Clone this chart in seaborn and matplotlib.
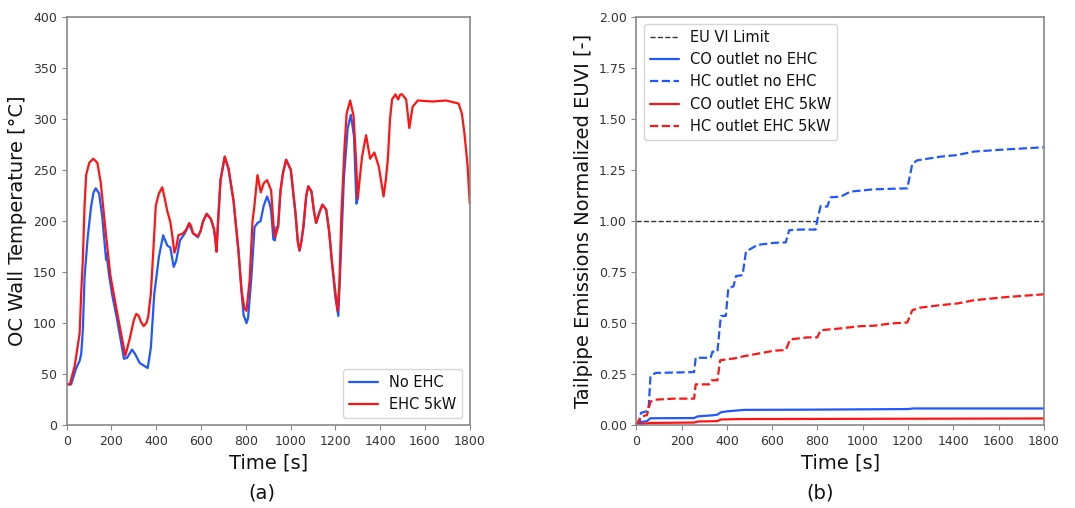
import matplotlib
matplotlib.use("Agg")
import matplotlib.pyplot as plt
import seaborn as sns
import numpy as np

# (a) OC wall temperature [degC] vs time [s]
t_ehc = [0, 14, 36, 58, 65, 72, 80, 87, 101, 119, 137, 152, 174, 195, 224, 262, 282, 300,
         311, 322, 332, 344, 356, 364, 376, 388, 398, 412, 427, 440, 449, 463, 472, 481, 490,
         499, 521, 535, 547, 556, 564, 586, 598, 608, 625, 644, 658, 664, 669, 675, 687, 706,
         723, 745, 767, 781, 793, 803, 817, 830, 838, 852, 867, 880, 895, 913, 923, 930, 944,
         955, 966, 980, 1001, 1022, 1032, 1040, 1048, 1057, 1070, 1079, 1093, 1104, 1114, 1128,
         1142, 1159, 1172, 1185, 1200, 1210, 1218, 1227, 1241, 1250, 1266, 1281, 1292, 1300,
         1308, 1319, 1337, 1355, 1374, 1394, 1415, 1425, 1434, 1444, 1453, 1468, 1480, 1490,
         1498, 1516, 1530, 1545, 1568, 1634, 1694, 1750, 1765, 1776, 1790, 1800]
temp_ehc = [40, 40, 58, 90, 130, 160, 215, 245, 257, 261, 257, 238, 190, 147, 112, 68, 85, 103,
            109, 107, 101, 97, 100, 106, 129, 175, 215, 227, 233, 220, 210, 199, 185, 169, 175,
            186, 188, 192, 198, 195, 188, 185, 190, 199, 207, 202, 192, 182, 170, 195, 240, 263,
            251, 220, 171, 132, 115, 112, 142, 200, 214, 245, 228, 237, 240, 230, 198, 184, 194,
            230, 247, 260, 250, 207, 180, 171, 180, 194, 225, 234, 229, 210, 198, 208,
            216, 211, 190, 159, 130, 112, 140, 208, 273, 305, 318, 303, 260, 222,
            240, 263, 284, 261, 267, 253, 224, 240, 260, 300, 319, 324, 319, 324,
            324, 319, 291, 312, 318, 317, 318, 315, 305, 286, 255, 217]

t_no_ehc = [0, 20, 43, 58, 65, 72, 80, 94, 109, 120, 130, 145, 159, 172, 176, 178, 190, 203,
            224, 256, 270, 292, 305, 326, 340, 362, 376, 391, 412, 431, 449, 463, 478, 489, 506,
            528, 547, 564, 586, 598, 608, 625, 644, 658, 664, 669, 675, 687, 706, 723, 745, 767,
            781, 790, 803, 810, 824, 839, 852, 866, 880, 895, 905, 913, 923, 930, 937, 944, 955,
            966, 980, 1001, 1022, 1032, 1040, 1048, 1057, 1070, 1079, 1093, 1104, 1114, 1128,
            1142, 1159, 1172, 1185, 1200, 1213, 1225, 1238, 1255, 1269, 1283, 1294, 1300]
temp_no_ehc = [40, 40, 56, 63, 70, 92, 145, 184, 214, 228, 232, 227, 204, 172, 162, 168, 146, 128,
               105, 65, 66, 74, 70, 61, 59, 56, 76, 128, 165, 186, 176, 174, 155, 161, 181,
               188, 197, 188, 184, 190, 199, 207, 202, 192, 182, 170, 195, 240, 263, 251, 220, 171,
               130, 108, 100, 105, 142, 194, 198, 200, 215, 224, 218, 210, 182, 181, 194, 194, 230,
               247, 260, 250, 207, 180, 171, 180, 194, 225, 234, 229, 210, 198, 208,
               216, 211, 190, 159, 125, 107, 170, 242, 291, 304, 283, 217, 222]

# (b) tailpipe emissions normalised to EU VI limit
t_hc_no = [0, 15, 20, 50, 55, 62, 85, 255, 262, 328, 336, 358, 373, 395, 406, 429, 440, 469,
           484, 535, 609, 660, 675, 725, 792, 799, 814, 843, 858, 902, 946, 1049, 1197, 1219,
           1241, 1344, 1418, 1492, 1640, 1800]
hc_no = [0, 0.02, 0.06, 0.07, 0.10, 0.24, 0.256, 0.26, 0.33, 0.33, 0.36, 0.36, 0.535, 0.535,
         0.67, 0.68, 0.73, 0.735, 0.85, 0.883, 0.893, 0.895, 0.955, 0.958, 0.958, 1.004, 1.073,
         1.07, 1.116, 1.119, 1.144, 1.155, 1.16, 1.28, 1.297, 1.315, 1.323, 1.34, 1.351, 1.361]

t_hc_ehc = [0, 18, 47, 62, 85, 166, 255, 262, 321, 332, 358, 370, 432, 476, 535, 609, 660, 679,
            755, 799, 814, 902, 990, 1049, 1123, 1197, 1219, 1256, 1344, 1418, 1492, 1640, 1800]
hc_ehc = [0, 0.04, 0.05, 0.115, 0.125, 0.13, 0.13, 0.20, 0.20, 0.22, 0.22, 0.318, 0.327, 0.338,
          0.35, 0.365, 0.368, 0.42, 0.43, 0.43, 0.465, 0.474, 0.485, 0.487, 0.498, 0.503, 0.563,
          0.576, 0.588, 0.596, 0.612, 0.628, 0.641]

t_co_no = [0, 18, 47, 62, 255, 270, 343, 358, 373, 402, 476, 755, 1197, 1226, 1800]
co_no = [0, 0.015, 0.02, 0.034, 0.035, 0.043, 0.049, 0.052, 0.063, 0.068, 0.075, 0.076, 0.079,
         0.082, 0.082]

t_co_ehc = [0, 18, 62, 255, 270, 358, 373, 461, 1800]
co_ehc = [0, 0.006, 0.011, 0.013, 0.018, 0.02, 0.028, 0.030, 0.033]

eu_limit = 1.0

BLUE = "#2058ff"
RED = "#ff1414"

sns.set_style("ticks")
plt.rcParams['font.family'] = ['DejaVu Sans']
plt.rcParams['text.color'] = '#111111'
plt.rcParams['axes.labelcolor'] = '#111111'

fig = plt.figure(figsize=(10.75, 5.08), dpi=100)
ax1 = fig.add_axes([0.062, 0.163, 0.375, 0.804])
ax2 = fig.add_axes([0.592, 0.163, 0.379, 0.804])

# left panel
sns.lineplot(x=t_no_ehc, y=temp_no_ehc, ax=ax1, color=BLUE, lw=1.6,
             estimator=None, sort=False, label="No EHC")
sns.lineplot(x=t_ehc, y=temp_ehc, ax=ax1, color=RED, lw=1.6,
             estimator=None, sort=False, label="EHC 5kW")
ax1.set_xlim(0, 1800)
ax1.set_ylim(0, 400)
ax1.set_xticks(np.arange(0, 1801, 200))
ax1.set_yticks(np.arange(0, 401, 50))
ax1.set_xlabel("Time [s]", fontsize=14)
ax1.set_ylabel("OC Wall Temperature [°C]", fontsize=14)
ax1.legend(loc="lower right", fontsize=10.5)

# right panel
ax2.axhline(eu_limit, color="#333333", ls="--", lw=1.0, label="EU VI Limit")
sns.lineplot(x=t_co_no, y=co_no, ax=ax2, color=BLUE, lw=1.6,
             estimator=None, sort=False, label="CO outlet no EHC")
sns.lineplot(x=t_hc_no, y=hc_no, ax=ax2, color=BLUE, lw=1.6, ls="--",
             estimator=None, sort=False, label="HC outlet no EHC")
sns.lineplot(x=t_co_ehc, y=co_ehc, ax=ax2, color=RED, lw=1.6,
             estimator=None, sort=False, label="CO outlet EHC 5kW")
sns.lineplot(x=t_hc_ehc, y=hc_ehc, ax=ax2, color=RED, lw=1.6, ls="--",
             estimator=None, sort=False, label="HC outlet EHC 5kW")
ax2.set_xlim(0, 1800)
ax2.set_ylim(0, 2.0)
ax2.set_xticks(np.arange(0, 1801, 200))
ax2.set_yticks(np.arange(0, 2.01, 0.25))
ax2.yaxis.set_major_formatter(matplotlib.ticker.FormatStrFormatter("%.2f"))
ax2.set_xlabel("Time [s]", fontsize=14)
ax2.set_ylabel("Tailpipe Emissions Normalized EUVI [-]", fontsize=14)
ax2.legend(loc="upper left", fontsize=10.5)

for ax in (ax1, ax2):
    for s in ax.spines.values():
        s.set_color("#888888")
        s.set_linewidth(1.2)
    ax.tick_params(labelsize=9, colors="#888888", labelcolor="#333333", length=3.5)

fig.text(0.244, 0.03, "(a)", ha="center", va="center", fontsize=14)
fig.text(0.763, 0.03, "(b)", ha="center", va="center", fontsize=14)

fig.savefig("out.png", dpi=100)
